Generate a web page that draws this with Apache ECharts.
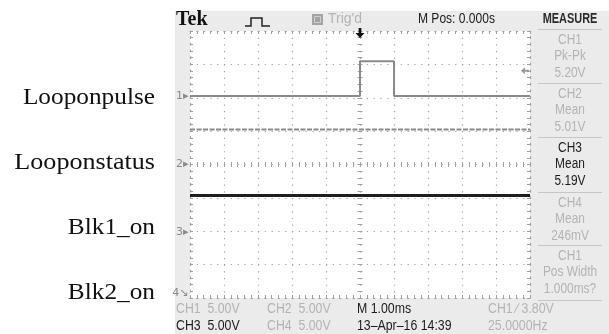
<!DOCTYPE html>
<html><head><meta charset="utf-8">
<script src="https://cdn.jsdelivr.net/npm/echarts@6/dist/echarts.min.js"></script>
<style>html,body{margin:0;padding:0;background:#fff}#c{width:609px;height:334px}</style>
</head><body><div id="c"></div>
<script>
// ---- data ----
const channelNames = ['Looponpulse', 'Looponstatus', 'Blk1_on', 'Blk2_on'];
const channelMarks = ['1\u25B8', '2\u25B8', '3\u25B8', '4\u2198'];
const ch1TimeMs = [-5, 0, 0, 1, 1, 5];
const ch1Volts  = [0, 0, 5.2, 5.2, 0, 0];
const ch2TimeMs = [-5, 5];
const ch2Volts  = [5.25, 5.25];
const ch3TimeMs = [-5, 5];
const ch3Volts  = [5.45, 5.45];
const ch4TimeMs = [-5, 5];
const ch4Volts  = [0.25, 0.25];
const voltsPerDiv = 5;
const groundDiv = [2.05, 0, -2.02, -4.2];
const markerDiv = [2.05, 0, -2.02, -3.85];
const triggerTimeMs = 0;
const triggerLevelVolts = 3.8;
const headerTexts = ['Tek', "Trig'd", 'M Pos: 0.000s', 'MEASURE'];
const measureRows = [
  ['CH1', 'Pk-Pk', '5.20V'],
  ['CH2', 'Mean', '5.01V'],
  ['CH3', 'Mean', '5.19V'],
  ['CH4', 'Mean', '246mV'],
  ['CH1', 'Pos Width', '1.000ms?']
];
const activeMeasure = 2;
const bottomRow1 = ['CH1  5.00V', 'CH2  5.00V', 'M 1.00ms', 'CH1 \u2044 3.80V'];
const bottomRow2 = ['CH3  5.00V', 'CH4  5.00V', '13\u2013Apr\u201316 14:39', '25.0000Hz'];
const bottomRow1Dark = [false, false, true, false];
const bottomRow2Dark = [true, false, true, false];

// ---- styles ----
const LIGHT = '#b3b3b3', DARK = '#1c1c1c', GRIDC = '#a0a0a0';
const TEKFONT = '"Liberation Sans", Arial, sans-serif';

function toDiv(times, volts, g) { return times.map((t, i) => [t, g + volts[i] / voltsPerDiv]); }

const dotV = { color: GRIDC, width: 1.2, type: [1.2, 5.475] };
const dotH = { color: GRIDC, width: 1.2, type: [1.2, 5.6] };
const tickLS = { color: GRIDC, width: 1 };

function xAx(pos, opts) {
  return Object.assign({
    type: 'value', min: -5, max: 5, interval: 1, position: pos,
    axisLine: { show: true, onZero: false, lineStyle: dotH },
    axisTick: { show: true, inside: true, length: 3, lineStyle: tickLS },
    minorTick: { show: true, splitNumber: 5, length: 3, lineStyle: tickLS },
    axisLabel: { show: false },
    splitLine: { show: false }
  }, opts || {});
}
function yAx(pos, opts) {
  return Object.assign({
    type: 'value', min: -4, max: 4, interval: 1, position: pos,
    axisLine: { show: true, onZero: false, lineStyle: dotV },
    axisTick: { show: true, inside: true, length: 3, lineStyle: tickLS },
    minorTick: { show: true, splitNumber: 5, length: 3, lineStyle: tickLS },
    axisLabel: { show: false },
    splitLine: { show: false }
  }, opts || {});
}
const centerTicks = {
  axisLine: { show: false, onZero: true, onZeroAxisIndex: 0 },
  axisTick: { show: true, inside: true, length: 2.5, lineStyle: tickLS },
  minorTick: { show: true, splitNumber: 5, length: 2.5, lineStyle: tickLS }
};

const xAxes = [
  xAx('bottom', { splitLine: { show: true, lineStyle: dotV } }),
  xAx('top'),
  xAx('bottom', centerTicks),
  xAx('top', centerTicks)
];
const yAxes = [
  yAx('left', { splitLine: { show: true, lineStyle: dotH } }),
  yAx('right'),
  yAx('left', centerTicks),
  yAx('right', centerTicks)
];

function chMarker(i) {
  return {
    coord: [-5, markerDiv[i]], symbol: 'circle', symbolSize: 1,
    itemStyle: { color: 'rgba(0,0,0,0)' },
    label: { show: true, formatter: channelMarks[i], position: 'left', distance: 1,
             color: '#8a8a8a', fontSize: 11, fontFamily: 'DejaVu Sans' }
  };
}
function lineSeries(name, data, color, width, type, extraMarks) {
  return {
    name: name, type: 'line', data: data, xAxisIndex: 0, yAxisIndex: 0,
    symbol: 'none', clip: true, animation: false, silent: true,
    lineStyle: { color: color, width: width, type: type || 'solid' },
    markPoint: { silent: true, animation: false, data: extraMarks }
  };
}

const series = [
  lineSeries(channelNames[0], toDiv(ch1TimeMs, ch1Volts, groundDiv[0]), '#8a8a8a', 2, 'solid', [
    chMarker(0),
    { coord: [triggerTimeMs, 4], symbol: 'path://M3.5,0 L6.5,0 L6.5,5 L10,5 L5,10 L0,5 L3.5,5 Z',
      symbolSize: [9, 10], symbolOffset: [0, 2], itemStyle: { color: '#111' }, label: { show: false } },
    { coord: [4.85, groundDiv[0] + triggerLevelVolts / voltsPerDiv],
      symbol: 'path://M0,5 L5,0 L5,3.5 L10,3.5 L10,6.5 L5,6.5 L5,10 Z',
      symbolSize: [8, 7], itemStyle: { color: '#9a9a9a' }, label: { show: false } }
  ]),
  lineSeries(channelNames[1], toDiv(ch2TimeMs, ch2Volts, groundDiv[1]), '#8a8a8a', 2, [5, 1.5], [chMarker(1)]),
  lineSeries(channelNames[2], toDiv(ch3TimeMs, ch3Volts, groundDiv[2]), '#1e1e1e', 3, 'solid', [chMarker(2)]),
  lineSeries(channelNames[3], toDiv(ch4TimeMs, ch4Volts, groundDiv[3]), '#8a8a8a', 2, 'solid', [chMarker(3)])
];

// ---- decorative text (graphic) ----
function txt(x, y, text, o) {
  o = o || {};
  return {
    type: 'text', x: x, y: y, scaleX: o.sx || 1, z: 5,
    style: {
      text: text, x: 0, y: 0, fill: o.color || DARK,
      fontSize: o.size || 14, fontFamily: o.family || TEKFONT, fontWeight: o.weight || 'normal',
      align: o.align || 'left', textAlign: o.align || 'left',
      verticalAlign: 'middle', textVerticalAlign: 'middle'
    }
  };
}
const graphics = [
  { type: 'rect', shape: { x: 0, y: 0, width: 175, height: 334 }, style: { fill: '#fff' }, z: 1 },
  { type: 'rect', shape: { x: 175, y: 0, width: 434, height: 11 }, style: { fill: '#fff' }, z: 1 }
];
const labelCenters = [97.5, 162.5, 227.5, 292.5];
const labelScale = [1.1, 1.135, 1.1, 1.1];
channelNames.forEach((n, i) => graphics.push(txt(155, labelCenters[i], n,
  { family: '"Liberation Serif", "Times New Roman", serif', size: 23, align: 'right', sx: labelScale[i], color: '#111' })));

// header
graphics.push(txt(176, 20, headerTexts[0], { family: '"Liberation Serif", serif', weight: 'bold', size: 20, color: '#111' }));
graphics.push({ type: 'polyline', z: 5, shape: { points: [[245, 26], [251, 26], [251, 18], [262, 18], [262, 26], [270, 26]] },
  style: { stroke: '#222', lineWidth: 1.5, fill: null } });
graphics.push({ type: 'rect', z: 5, shape: { x: 312, y: 14, width: 11, height: 11 }, style: { fill: '#a4a4a4' } });
graphics.push({ type: 'rect', z: 5, shape: { x: 314.5, y: 16.5, width: 6, height: 6 }, style: { fill: null, stroke: '#cfcfcf', lineWidth: 1 } });
graphics.push(txt(328, 19.5, headerTexts[1], { color: LIGHT, size: 14 }));
graphics.push(txt(418, 19.5, headerTexts[2], { color: DARK, size: 14, sx: 0.86 }));
graphics.push(txt(570, 19.5, headerTexts[3], { color: '#2a2a2a', weight: 'bold', size: 14, align: 'center', sx: 0.78 }));

// measure panel
const boxTops = [29, 83, 137, 192, 245, 300];
boxTops.forEach(y => graphics.push({ type: 'line', z: 5, shape: { x1: 538, y1: y + 0.5, x2: 602, y2: y + 0.5 },
  style: { stroke: '#c6c6c6', lineWidth: 1 } }));
measureRows.forEach((row, i) => {
  const c = i === activeMeasure ? DARK : LIGHT;
  const offs = [11, 27.5, 44];
  row.forEach((t, j) => graphics.push(txt(570, boxTops[i] + offs[j], t, { color: c, size: 14, align: 'center', sx: 0.85 })));
});

// bottom rows
const bx = [176, 267, 357, 488];
bottomRow1.forEach((t, i) => graphics.push(txt(bx[i], 309, t, { color: bottomRow1Dark[i] ? DARK : LIGHT, size: 14, sx: 0.88 })));
bottomRow2.forEach((t, i) => graphics.push(txt(bx[i], 326, t, { color: bottomRow2Dark[i] ? DARK : LIGHT, size: 14, sx: 0.88 })));

const chart = echarts.init(document.getElementById('c'), null, { renderer: 'canvas' });
chart.setOption({
  backgroundColor: '#ebebeb',
  animation: false,
  grid: { left: 190, right: 79, top: 31, bottom: 36, show: true, backgroundColor: '#ffffff', borderWidth: 0 },
  xAxis: xAxes,
  yAxis: yAxes,
  series: series,
  graphic: { elements: graphics }
});
</script></body></html>
